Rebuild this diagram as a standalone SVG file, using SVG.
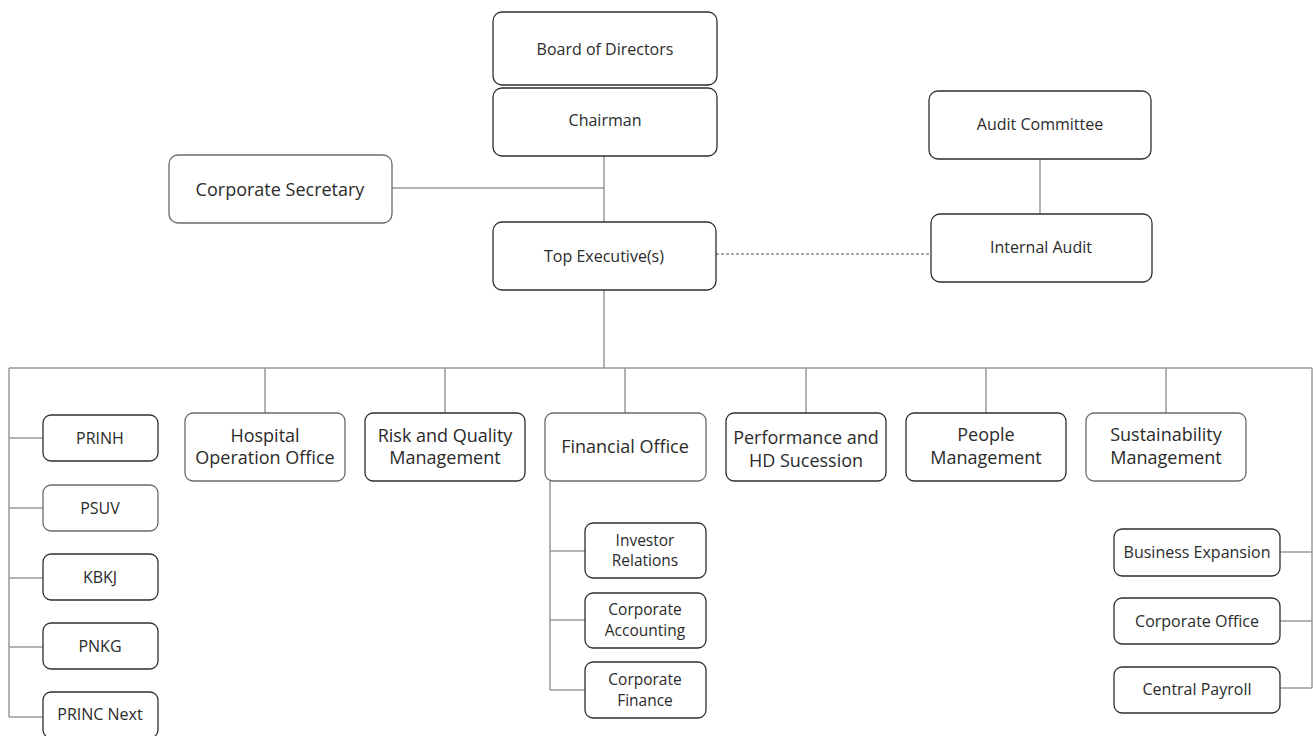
<svg xmlns="http://www.w3.org/2000/svg" width="1314" height="736" viewBox="0 0 1314 736">
  <style>
    .box { fill: #ffffff; stroke: #2e2e2e; stroke-width: 1.3; }
    .box.soft { stroke: #6a6a6a; }
    .lbl { font-family: "Open Sans", "Noto Sans", sans-serif; fill: #2b2b2b; text-anchor: middle; }
    .s16 { font-size: 16px; }
    .s15 { font-size: 15.5px; }
    .s18 { font-size: 18px; }
    .wire { fill: none; stroke: #9a9a9a; stroke-width: 1.5; }
    .dash { fill: none; stroke: #8c8c8c; stroke-width: 1.3; stroke-dasharray: 3 2; }
  </style>
  <rect width="1314" height="736" fill="#ffffff"/>

  <!-- connectors -->
  <g id="connectors">
    <path class="wire" d="M604 156 V222 M392 188 H604"/>
    <path class="wire" d="M1040 159 V214"/>
    <path class="dash" d="M716 254 H931"/>
    <path class="wire" d="M604 290 V368 M9 368 H1312"/>
    <path class="wire" d="M265 368 V413 M445 368 V413 M625 368 V413 M806 368 V413 M986 368 V413 M1166 368 V413"/>
    <path class="wire" d="M9 368 V717 M9 438 H43 M9 508 H43 M9 578 H43 M9 647 H43 M9 717 H43"/>
    <path class="wire" d="M550 481 V690 M550 551 H585 M550 620 H585 M550 690 H585"/>
    <path class="wire" d="M1312 368 V688 M1280 552 H1312 M1280 621 H1312 M1280 688 H1312"/>
  </g>

  <!-- governance -->
  <g id="board">
    <rect class="box" x="493" y="12" width="224" height="73" rx="9"/>
    <text class="lbl s16" x="605" y="55">Board of Directors</text>
  </g>
  <g id="chairman">
    <rect class="box" x="493" y="88" width="224" height="68" rx="9"/>
    <text class="lbl s16" x="605" y="126">Chairman</text>
  </g>
  <g id="corporate-secretary">
    <rect class="box soft" x="169" y="155" width="223" height="68" rx="9"/>
    <text class="lbl s18" x="280" y="195.5">Corporate Secretary</text>
  </g>
  <g id="top-executive">
    <rect class="box" x="493" y="222" width="223" height="68" rx="9"/>
    <text class="lbl s16" x="604" y="262">Top Executive(s)</text>
  </g>
  <g id="audit-committee">
    <rect class="box" x="929" y="91" width="222" height="68" rx="9"/>
    <text class="lbl s16" x="1040" y="130">Audit Committee</text>
  </g>
  <g id="internal-audit">
    <rect class="box" x="931" y="214" width="221" height="68" rx="9"/>
    <text class="lbl s16" x="1041" y="253">Internal Audit</text>
  </g>

  <!-- departments -->
  <g id="hospital-operation">
    <rect class="box soft" x="185" y="413" width="160" height="68" rx="8"/>
    <text class="lbl s18" x="265" y="441.5">Hospital</text>
    <text class="lbl s18" x="265" y="464">Operation Office</text>
  </g>
  <g id="risk-quality">
    <rect class="box" x="365" y="413" width="160" height="68" rx="8"/>
    <text class="lbl s18" x="445" y="441.5">Risk and Quality</text>
    <text class="lbl s18" x="445" y="464">Management</text>
  </g>
  <g id="financial-office">
    <rect class="box soft" x="545" y="413" width="161" height="68" rx="8"/>
    <text class="lbl s18" x="625" y="452.5">Financial Office</text>
  </g>
  <g id="performance-hd">
    <rect class="box" x="726" y="413" width="160" height="68" rx="8"/>
    <text class="lbl s18" x="806" y="443.5">Performance and</text>
    <text class="lbl s18" x="806" y="467">HD Sucession</text>
  </g>
  <g id="people-management">
    <rect class="box" x="906" y="413" width="160" height="68" rx="8"/>
    <text class="lbl s18" x="986" y="441">People</text>
    <text class="lbl s18" x="986" y="464">Management</text>
  </g>
  <g id="sustainability-management">
    <rect class="box soft" x="1086" y="413" width="160" height="68" rx="8"/>
    <text class="lbl s18" x="1166" y="441">Sustainability</text>
    <text class="lbl s18" x="1166" y="464">Management</text>
  </g>

  <!-- hospitals -->
  <g id="prinh">
    <rect class="box" x="43" y="415" width="115" height="46" rx="8"/>
    <text class="lbl s16" x="100" y="444">PRINH</text>
  </g>
  <g id="psuv">
    <rect class="box soft" x="43" y="485" width="115" height="46" rx="8"/>
    <text class="lbl s16" x="100" y="514">PSUV</text>
  </g>
  <g id="kbkj">
    <rect class="box" x="43" y="554" width="115" height="46" rx="8"/>
    <text class="lbl s16" x="100" y="583">KBKJ</text>
  </g>
  <g id="pnkg">
    <rect class="box" x="43" y="623" width="115" height="46" rx="8"/>
    <text class="lbl s16" x="100" y="652">PNKG</text>
  </g>
  <g id="princ-next">
    <rect class="box" x="43" y="692" width="115" height="46" rx="8"/>
    <text class="lbl s16" x="100" y="720">PRINC Next</text>
  </g>

  <!-- finance units -->
  <g id="investor-relations">
    <rect class="box" x="585" y="523" width="121" height="55" rx="8"/>
    <text class="lbl s15" x="645" y="546">Investor</text>
    <text class="lbl s15" x="645" y="566">Relations</text>
  </g>
  <g id="corporate-accounting">
    <rect class="box" x="585" y="593" width="121" height="55" rx="8"/>
    <text class="lbl s15" x="645" y="615">Corporate</text>
    <text class="lbl s15" x="645" y="636">Accounting</text>
  </g>
  <g id="corporate-finance">
    <rect class="box" x="585" y="662" width="121" height="56" rx="8"/>
    <text class="lbl s15" x="645" y="685">Corporate</text>
    <text class="lbl s15" x="645" y="706">Finance</text>
  </g>

  <!-- sustainability units -->
  <g id="business-expansion">
    <rect class="box" x="1114" y="529" width="166" height="47" rx="8"/>
    <text class="lbl s16" x="1197" y="558">Business Expansion</text>
  </g>
  <g id="corporate-office">
    <rect class="box" x="1114" y="598" width="166" height="46" rx="8"/>
    <text class="lbl s16" x="1197" y="627">Corporate Office</text>
  </g>
  <g id="central-payroll">
    <rect class="box" x="1114" y="667" width="166" height="46" rx="8"/>
    <text class="lbl s16" x="1197" y="695">Central Payroll</text>
  </g>
</svg>
